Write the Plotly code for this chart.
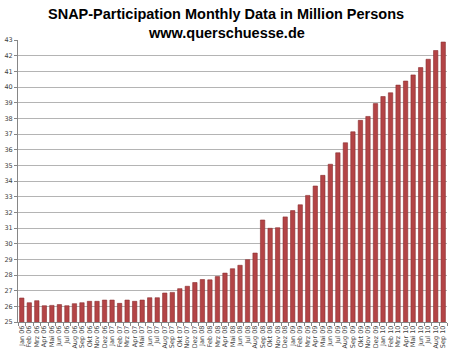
import plotly.graph_objects as go

months = ["Jan", "Feb", "Mrz", "Apr", "Mai", "Jun", "Jul", "Aug", "Sep", "Okt", "Nov", "Dez"]
years = ["06", "07", "08", "09", "10"]
categories = [f"{m} {y}" for y in years for m in months][:57]

participants = [
    26.53, 26.23, 26.36, 26.04, 26.06, 26.11, 26.04, 26.17, 26.23, 26.32, 26.32, 26.40,
    26.40, 26.19, 26.40, 26.32, 26.40, 26.55, 26.55, 26.85, 26.89, 27.13, 27.28, 27.52,
    27.71, 27.69, 27.90, 28.12, 28.40, 28.62, 28.98, 29.40, 31.51, 30.98, 31.02, 31.71,
    32.11, 32.48, 33.08, 33.68, 34.36, 35.07, 35.80, 36.44, 37.14, 37.87, 38.12, 38.94,
    39.39, 39.63, 40.12, 40.38, 40.77, 41.24, 41.77, 42.33, 42.87,
]

title_line1 = "SNAP-Participation Monthly Data in Million Persons"
title_line2 = "www.querschuesse.de"

fig = go.Figure(
    go.Bar(
        x=categories,
        y=participants,
        marker=dict(color="#B34446", line=dict(color="#8C2F31", width=0.6)),
    )
)

fig.update_layout(
    width=450,
    height=355,
    margin=dict(l=18, r=3, t=40, b=33),
    paper_bgcolor="white",
    plot_bgcolor="white",
    bargap=0.42,
    showlegend=False,
    annotations=[
        dict(text=f"<b>{title_line1}</b>", xref="paper", yref="paper", x=0.485, y=1.092,
             xanchor="center", yanchor="middle", showarrow=False,
             font=dict(family="Liberation Sans", size=14.5, color="black")),
        dict(text=f"<b>{title_line2}</b>", xref="paper", yref="paper", x=0.485, y=1.0248,
             xanchor="center", yanchor="middle", showarrow=False,
             font=dict(family="Liberation Sans", size=14.5, color="black")),
    ],
)

fig.update_xaxes(
    type="category",
    tickmode="array",
    tickvals=categories,
    ticktext=categories,
    tickangle=-90,
    tickfont=dict(family="DejaVu Sans", size=6.5, color="#404040"),
    ticks="outside",
    tickson="boundaries",
    ticklen=3,
    tickcolor="#868686",
    showline=True,
    linecolor="#868686",
    linewidth=1,
    showgrid=False,
    automargin=False,
)

fig.update_yaxes(
    range=[25, 43],
    dtick=1,
    tick0=25,
    tickfont=dict(family="DejaVu Sans", size=6.5, color="#404040"),
    ticks="outside",
    ticklen=3,
    tickcolor="#868686",
    showline=True,
    linecolor="#868686",
    linewidth=1,
    showgrid=True,
    gridcolor="#b4b4b4",
    gridwidth=1,
    zeroline=False,
    automargin=False,
)

fig.write_html(
    "out.html",
    config={"displayModeBar": False},
    post_script="document.body.style.margin='0';",
)
